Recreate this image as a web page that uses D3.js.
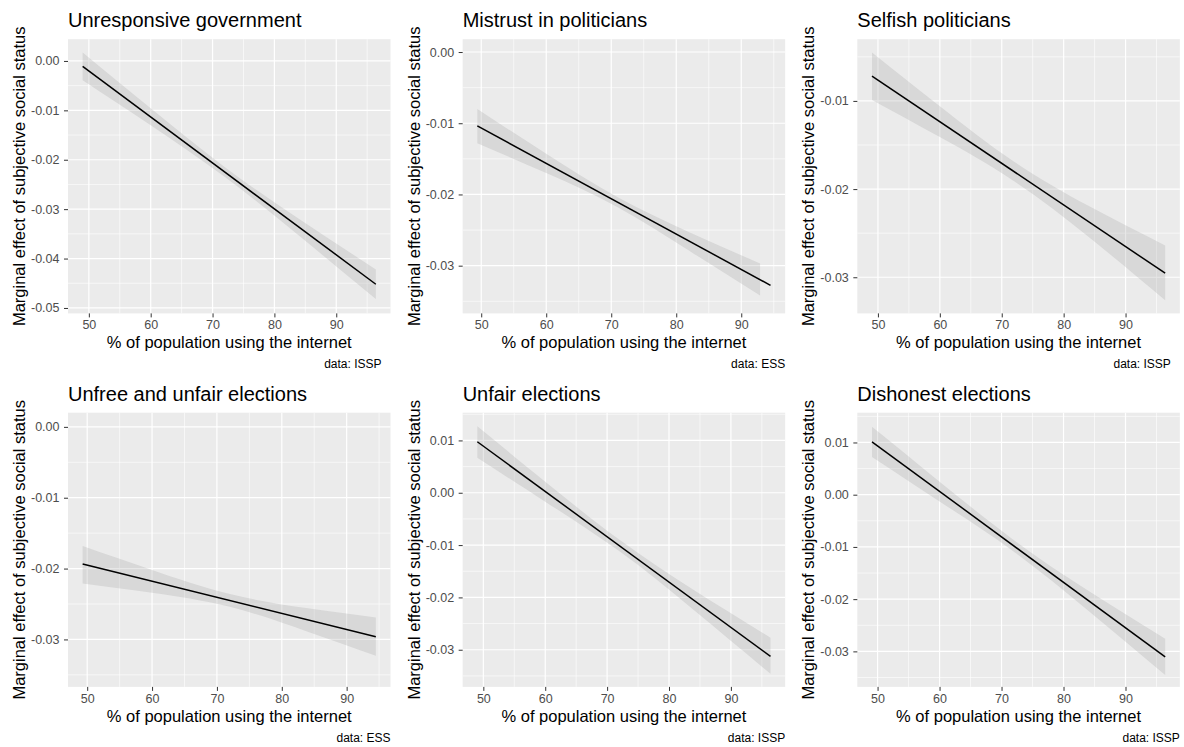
<!DOCTYPE html>
<html>
<head>
<meta charset="utf-8">
<script src="https://cdn.jsdelivr.net/npm/d3@7"></script>
<style>
  body { margin: 0; background: #fff; }
  svg { display: block; font-family: "Liberation Sans", Arial, sans-serif; }
</style>
</head>
<body>
<div class="chart"></div>
<script>
// panel titles and data source
var titles = ["Unresponsive government", "Mistrust in politicians", "Selfish politicians",
              "Unfree and unfair elections", "Unfair elections", "Dishonest elections"];
var sources = ["ISSP", "ESS", "ISSP", "ESS", "ISSP", "ISSP"];

// marginal effect line (start / end)
var lineX = [[49.0, 96.4], [49.4, 94.5], [49.04, 96.4], [49.3, 94.5], [49.03, 96.4], [49.1, 96.4]];
var lineY = [[-0.0011, -0.0452], [-0.01038, -0.03276], [-0.00718, -0.02954],
             [-0.01934, -0.02963], [0.00975, -0.03127], [0.01013, -0.03107]];

// confidence band
var bandX = [[49.0, 60, 72, 84, 96.4], [49.4, 60, 71, 82, 92.9], [49.04, 60, 72, 84, 96.4],
             [49.3, 60, 72, 84, 94.5], [49.03, 60, 72, 84, 96.4], [49.1, 60, 72, 84, 96.4]];
var bandHi = [[0.0017, -0.0096, -0.0215, -0.0320, -0.0422],
              [-0.0080, -0.0143, -0.0204, -0.0253, -0.0297],
              [-0.0045, -0.0106, -0.0169, -0.0219, -0.0264],
              [-0.0168, -0.0202, -0.0236, -0.0256, -0.0269],
              [0.0127, 0.0021, -0.0090, -0.0186, -0.0277],
              [0.0130, 0.0025, -0.0087, -0.0184, -0.0276]];
var bandLo = [[-0.0039, -0.0130, -0.0235, -0.0354, -0.0482],
              [-0.0128, -0.0170, -0.0218, -0.0279, -0.0342],
              [-0.0099, -0.0141, -0.0191, -0.0254, -0.0326],
              [-0.0221, -0.0234, -0.0254, -0.0289, -0.0323],
              [0.0067, -0.0017, -0.0112, -0.0224, -0.0346],
              [0.0072, -0.0013, -0.0109, -0.0222, -0.0345]];

// y axis limits and ticks per panel
var yLimits = [[-0.0511, 0.0044], [-0.0367, 0.0018], [-0.0341, -0.0030],
               [-0.0367, 0.0020], [-0.0371, 0.0153], [-0.0368, 0.0157]];
var yTicks = [[-0.05, -0.04, -0.03, -0.02, -0.01, 0.00],
              [-0.03, -0.02, -0.01, 0.00],
              [-0.03, -0.02, -0.01],
              [-0.03, -0.02, -0.01, 0.00],
              [-0.03, -0.02, -0.01, 0.00, 0.01],
              [-0.03, -0.02, -0.01, 0.00, 0.01]];
var xTicks = [50, 60, 70, 80, 90];

var xTitle = "% of population using the internet";
var yTitle = "Marginal effect of subjective social status";

var W = 1184 / 3, H = 747 / 2;
var pL = 68, pR = 390.5, pT = 39.2, pB = 313.4;
var captionDx = [-9, 0, -9, 0, 0, 0];

var fmt = d3.formatLocale({decimal: ".", thousands: ",", grouping: [3], currency: ["", ""], minus: "-"}).format(".2f");

var svg = d3.select(".chart").append("svg")
    .attr("width", 1184)
    .attr("height", 747);

svg.append("rect").attr("width", 1184).attr("height", 747).attr("fill", "#fff");

function expand(ext) {
    var r = ext[1] - ext[0];
    return [ext[0] - r * 0.05, ext[1] + r * 0.05];
}

function minorBreaks(ticks, dom) {
    var step = ticks[1] - ticks[0];
    var ext = [ticks[0] - step].concat(ticks, [ticks[ticks.length - 1] + step]);
    var out = [];
    for (var i = 0; i < ext.length - 1; i++) {
        var m = (ext[i] + ext[i + 1]) / 2;
        if (m >= Math.min(dom[0], dom[1]) && m <= Math.max(dom[0], dom[1])) out.push(m);
    }
    return out;
}

titles.forEach(function(title, i) {
    var col = i % 3, row = Math.floor(i / 3);
    var g = svg.append("g").attr("transform", "translate(" + (col * W) + "," + (row * H) + ")");

    var x = d3.scaleLinear().domain(expand(lineX[i])).range([pL, pR]);
    var y = d3.scaleLinear().domain(yLimits[i]).range([pB, pT]);

    g.append("rect")
        .attr("x", pL).attr("y", pT)
        .attr("width", pR - pL).attr("height", pB - pT)
        .attr("fill", "#ebebeb");

    // minor grid
    g.selectAll(".mx").data(minorBreaks(xTicks, x.domain())).enter().append("line")
        .attr("x1", x).attr("x2", x).attr("y1", pT).attr("y2", pB)
        .attr("stroke", "#fff").attr("stroke-width", 0.6);
    g.selectAll(".my").data(minorBreaks(yTicks[i], y.domain())).enter().append("line")
        .attr("y1", y).attr("y2", y).attr("x1", pL).attr("x2", pR)
        .attr("stroke", "#fff").attr("stroke-width", 0.6);
    // major grid
    g.selectAll(".gx").data(xTicks).enter().append("line")
        .attr("x1", x).attr("x2", x).attr("y1", pT).attr("y2", pB)
        .attr("stroke", "#fff").attr("stroke-width", 1.2);
    g.selectAll(".gy").data(yTicks[i]).enter().append("line")
        .attr("y1", y).attr("y2", y).attr("x1", pL).attr("x2", pR)
        .attr("stroke", "#fff").attr("stroke-width", 1.2);

    // band
    var band = bandX[i].map(function(v, j) { return {x: v, lo: bandLo[i][j], hi: bandHi[i][j]}; });
    var area = d3.area()
        .x(function(d) { return x(d.x); })
        .y0(function(d) { return y(d.lo); })
        .y1(function(d) { return y(d.hi); })
        .curve(d3.curveNatural);
    g.append("path").datum(band)
        .attr("d", area)
        .attr("fill", "#999999")
        .attr("fill-opacity", 0.24);

    // line
    var pts = lineX[i].map(function(v, j) { return [v, lineY[i][j]]; });
    g.append("path").datum(pts)
        .attr("d", d3.line().x(function(d) { return x(d[0]); }).y(function(d) { return y(d[1]); }))
        .attr("fill", "none")
        .attr("stroke", "#000")
        .attr("stroke-width", 1.5);

    // axes
    var ya = g.append("g").attr("transform", "translate(" + pL + ",0)")
        .call(d3.axisLeft(y).tickValues(yTicks[i]).tickFormat(fmt).tickSize(4).tickPadding(4.5));
    var xa = g.append("g").attr("transform", "translate(0," + pB + ")")
        .call(d3.axisBottom(x).tickValues(xTicks).tickSize(4).tickPadding(3));
    [ya, xa].forEach(function(a) {
        a.select(".domain").remove();
        a.selectAll(".tick line").attr("stroke", "#333333").attr("stroke-width", 1);
        a.selectAll(".tick text").attr("fill", "#4d4d4d")
            .style("font-size", "12.5px")
            .style("font-family", "'Liberation Sans', Arial, sans-serif");
    });

    // texts
    g.append("text")
        .attr("x", pL).attr("y", 27)
        .style("font-size", "20px")
        .attr("fill", "#000")
        .text(title);

    g.append("text")
        .attr("x", (pL + pR) / 2).attr("y", 348)
        .attr("text-anchor", "middle")
        .style("font-size", "16.5px")
        .text(xTitle);

    g.append("text")
        .attr("transform", "translate(25," + ((pT + pB) / 2) + ") rotate(-90)")
        .attr("text-anchor", "middle")
        .style("font-size", "16.5px")
        .text(yTitle);

    g.append("text")
        .attr("x", pR + captionDx[i]).attr("y", 368)
        .attr("text-anchor", "end")
        .style("font-size", "12px")
        .text("data: " + sources[i]);
});
</script>
</body>
</html>
